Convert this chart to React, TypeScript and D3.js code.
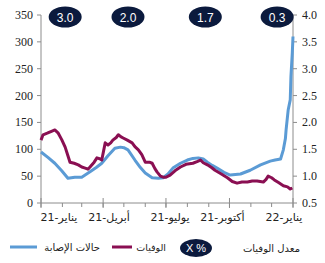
import React from "react";
import * as d3 from "d3";

// day index from 1 Jan 2021
const casesDays = [0,10,20,30,39,49,59,71,80,88,97,107,115,120,126,136,144,151,161,170,177,184,191,202,212,220,228,235,241,248,255,265,274,289,303,318,332,339,347,351,354,355,358,361,362,364,365];
const casesVals = [95,85,74,60,46,48,48,58,66,74,88,102,104,103,99,80,66,56,47,46,47,54,65,74,80,83,84,82,76,70,65,57,52,54,61,71,78,80,82,99,120,136,173,192,235,280,310];

const deathsDays = [0,3,9,16,20,25,30,35,39,42,48,54,59,64,68,71,77,81,86,88,93,97,101,104,109,112,116,119,125,132,136,141,146,151,157,161,165,168,173,177,181,187,194,202,210,220,226,231,235,241,247,252,260,270,277,284,291,299,306,313,322,326,329,334,338,344,351,357,361,364];
const deathsVals = [117,127,130,134,136,130,118,104,88,76,74,71,67,65,63,67,76,84,82,80,112,108,112,117,122,127,123,121,117,112,105,99,90,76,76,74,64,58,50,48,48,52,60,67,72,74,77,80,75,71,66,61,55,47,40,37,39,39,41,41,39,44,50,47,43,38,32,30,26,28];

const leftTicks = [0, 50, 100, 150, 200, 250, 300, 350];
const rightTicks = [0.5, 1.0, 1.5, 2.0, 2.5, 3.0, 3.5, 4.0];
const monthTicks = [0,31,59,90,120,151,181,212,243,273,304,334,365];
const quarterTicks = [0, 90, 181, 273, 365];
const quarterLabels = ["يناير-21", "أبريل-21", "يوليو-21", "أكتوبر-21", "يناير-22"];
const labelShift = [18, 6, 4, -7, -9];

const badgeDays = [35, 126, 238, 342];
const badgeLabels = ["3.0", "2.0", "1.7", "0.3"];

const legendCases = "حالات الإصابة";
const legendDeaths = "الوفيات";
const legendRate = "معدل الوفيات";
const legendBadge = "X %";

const W = 325, H = 263;
const L = 41, R = 293, T = 15, B = 203;

export default function App() {
  const x = d3.scaleLinear().domain([0, 365]).range([L, R]);
  const y = d3.scaleLinear().domain([0, 350]).range([B, T]);
  const y2 = d3.scaleLinear().domain([0.5, 4.0]).range([B, T]);

  const line = d3.line<[number, number]>().x(d => x(d[0])).y(d => y(d[1])).curve(d3.curveLinear);
  const casesPath = line(casesDays.map((d, i) => [d, casesVals[i]]) as [number, number][]) || "";
  const deathsPath = line(deathsDays.map((d, i) => [d, deathsVals[i]]) as [number, number][]) || "";

  const axisColor = "#8c8c8c";
  const serif = "'Liberation Serif', 'Times New Roman', serif";
  const arabic = "'DejaVu Sans', 'Noto Sans', sans-serif";
  const navy = "#0b1a3d";
  const blue = "#5b9bd5";
  const purple = "#8a0f52";

  return (
    <svg width={W} height={H} style={{ position: "absolute", left: 0, top: 0, background: "#fff" }}>
      {/* left axis */}
      <line x1={L} x2={L} y1={T} y2={B} stroke={axisColor} strokeWidth={1} />
      {leftTicks.map(t => (
        <g key={"l" + t}>
          <line x1={L - 4} x2={L} y1={y(t)} y2={y(t)} stroke={axisColor} />
          <text x={L - 8} y={y(t) + 4} textAnchor="end" fontFamily={serif} fontSize={12} fill="#222">{t}</text>
        </g>
      ))}
      {/* right axis */}
      <line x1={R} x2={R} y1={T} y2={B} stroke={axisColor} strokeWidth={1} />
      {rightTicks.map(t => (
        <g key={"r" + t}>
          <line x1={R} x2={R + 4} y1={y2(t)} y2={y2(t)} stroke={axisColor} />
          <text x={R + 9} y={y2(t) + 4} textAnchor="start" fontFamily={serif} fontSize={12} fill="#222">{t.toFixed(1)}</text>
        </g>
      ))}
      {/* bottom axis */}
      <line x1={L} x2={R} y1={B} y2={B} stroke={axisColor} />
      {monthTicks.map(t => (
        <line key={"m" + t} x1={x(t)} x2={x(t)} y1={B} y2={B + 4} stroke={axisColor} />
      ))}
      {quarterTicks.map((t, i) => (
        <g key={"q" + t}>
          <line x1={x(t)} x2={x(t)} y1={B - 5} y2={B + 5} stroke={axisColor} />
          <text x={x(t) + labelShift[i]} y={221} textAnchor="middle" fontFamily={arabic} fontSize={11} fill="#222">{quarterLabels[i]}</text>
        </g>
      ))}
      {/* series */}
      <path d={casesPath} fill="none" stroke={blue} strokeWidth={3} strokeLinejoin="round" />
      <path d={deathsPath} fill="none" stroke={purple} strokeWidth={3} strokeLinejoin="round" />
      {/* badges */}
      {badgeDays.map((d, i) => (
        <g key={"b" + i}>
          <ellipse cx={x(d)} cy={y(350) + 2} rx={16.5} ry={10.5} fill={navy} />
          <text x={x(d)} y={y(350) + 6.5} textAnchor="middle" fontFamily="'Liberation Sans', Arial, sans-serif" fontSize={12} fill="#fff">{badgeLabels[i]}</text>
        </g>
      ))}
      {/* legend */}
      <line x1={10} x2={37} y1={247} y2={247} stroke={blue} strokeWidth={3} />
      <text x={100} y={251} textAnchor="end" fontFamily={arabic} fontSize={10} fill="#222">{legendCases}</text>
      <line x1={112} x2={132} y1={247} y2={247} stroke={purple} strokeWidth={3} />
      <text x={166} y={251} textAnchor="end" fontFamily={arabic} fontSize={9.5} fill="#222">{legendDeaths}</text>
      <ellipse cx={196} cy={248} rx={16} ry={9} fill={navy} />
      <text x={196} y={252} textAnchor="middle" fontFamily="'Liberation Sans', Arial, sans-serif" fontSize={11} fill="#fff">{legendBadge}</text>
      <text x={300} y={252} textAnchor="end" fontFamily={arabic} fontSize={10} fill="#222">{legendRate}</text>
    </svg>
  );
}
